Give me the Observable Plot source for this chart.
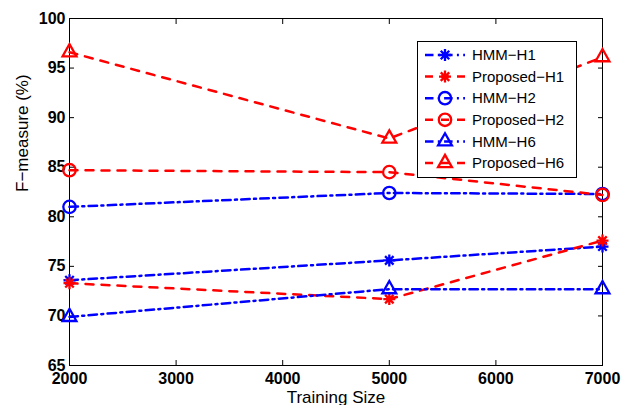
<!DOCTYPE html>
<html><head><meta charset="utf-8">
<script src="https://cdn.jsdelivr.net/npm/d3@7"></script>
<script src="https://cdn.jsdelivr.net/npm/@observablehq/plot@0.6"></script>
<style>
body{margin:0;background:#fff;}
#chart{position:relative;width:638px;height:405px;overflow:hidden;font-family:"Liberation Sans",Arial,sans-serif;}
</style>
</head><body><div id="chart"></div>
<script>
const trainingSize = [2000, 5000, 7000];
const seriesNames = ["HMM−H1", "Proposed−H1", "HMM−H2", "Proposed−H2", "HMM−H6", "Proposed−H6"];
const hmmH1 = [73.6, 75.6, 77.0];
const proposedH1 = [73.3, 71.7, 77.6];
const hmmH2 = [81.0, 82.4, 82.3];
const proposedH2 = [84.7, 84.5, 82.2];
const hmmH6 = [69.9, 72.7, 72.7];
const proposedH6 = [96.6, 87.9, 96.1];
const xTicks = [2000, 3000, 4000, 5000, 6000, 7000];
const yTicks = [65, 70, 75, 80, 85, 90, 95, 100];
const xLabel = "Training Size";
const yLabel = "F−measure (%)";

const seriesValues = [hmmH1, proposedH1, hmmH2, proposedH2, hmmH6, proposedH6];

// custom MATLAB-like symbols
const asterisk = {draw(ctx, size) {
  const r = Math.sqrt(size / Math.PI), d = r * Math.SQRT1_2;
  ctx.moveTo(-r, 0); ctx.lineTo(r, 0);
  ctx.moveTo(0, -r); ctx.lineTo(0, r);
  ctx.moveTo(-d, -d); ctx.lineTo(d, d);
  ctx.moveTo(-d, d); ctx.lineTo(d, -d);
}};
const circle = {draw(ctx, size) {
  const r = Math.sqrt(size / Math.PI);
  ctx.moveTo(r, 0); ctx.arc(0, 0, r, 0, 2 * Math.PI);
}};
const triangle = {draw(ctx, size) {
  const r = Math.sqrt(size / Math.PI), w = r * 1.05, h = r * 1.85;
  ctx.moveTo(0, -2 * h / 3); ctx.lineTo(w, h / 3); ctx.lineTo(-w, h / 3); ctx.closePath();
}};

const blue = "#0000ff", red = "#ff0000";
const dashDot = "8.5,4.3,2,4.3", dashed = "8,8";
const styles = [
  {color: blue, dash: dashDot, symbol: asterisk, r: 6},
  {color: red, dash: dashed, symbol: asterisk, r: 6},
  {color: blue, dash: dashDot, symbol: circle, r: 6.2},
  {color: red, dash: dashed, symbol: circle, r: 6.2},
  {color: blue, dash: dashDot, symbol: triangle, r: 6.6},
  {color: red, dash: dashed, symbol: triangle, r: 6.6}
];

const rows = seriesNames.map((name, i) => trainingSize.map((x, j) => ({series: name, x, y: seriesValues[i][j]})));

const marks = [];
rows.forEach((data, i) => {
  const s = styles[i];
  marks.push(Plot.line(data, {x: "x", y: "y", stroke: s.color, strokeWidth: 2.5, strokeDasharray: s.dash}));
  marks.push(Plot.dot(data, {x: "x", y: "y", r: s.r, symbol: s.symbol, stroke: s.color, strokeWidth: 2.3, fill: "none"}));
});

const tickFmt = d => String(d);
const plot = Plot.plot({
  width: 638, height: 405,
  marginLeft: 69, marginRight: 36, marginTop: 18, marginBottom: 40,
  style: {fontFamily: "'Liberation Sans', Arial, sans-serif", background: "white", color: "black"},
  x: {domain: [2000, 7000]},
  y: {domain: [65, 100]},
  marks: [
    Plot.frame({stroke: "black", strokeWidth: 1}),
    Plot.axisX(xTicks, {anchor: "bottom", tickSize: -5, tickFormat: () => "", label: null}),
    Plot.axisX(xTicks, {anchor: "top", tickSize: -5, tickFormat: () => "", label: null}),
    Plot.axisY(yTicks, {anchor: "left", tickSize: -5, tickFormat: () => "", label: null}),
    Plot.axisY(yTicks, {anchor: "right", tickSize: -5, tickFormat: () => "", label: null}),
    Plot.axisX(xTicks, {anchor: "bottom", tickSize: 0, tickPadding: 7, tickFormat: tickFmt, fontSize: 16, fontWeight: "bold", label: null}),
    Plot.axisY(yTicks, {anchor: "left", tickSize: 0, tickPadding: 4, tickFormat: tickFmt, fontSize: 16, fontWeight: "bold", label: null}),
    ...marks,
    Plot.text([xLabel], {frameAnchor: "bottom", dy: 32, fontSize: 17, lineAnchor: "middle"}),
    Plot.text([yLabel], {frameAnchor: "left", dx: -46.5, rotate: -90, fontSize: 17, lineAnchor: "middle"})
  ]
});
document.getElementById("chart").appendChild(plot);

// legend overlay
const leg = d3.select("#chart").append("svg")
  .attr("width", 638).attr("height", 405)
  .style("position", "absolute").style("left", "0").style("top", "0");
leg.append("rect").attr("x", 417.5).attr("y", 41.5).attr("width", 159).attr("height", 136)
  .attr("fill", "white").attr("stroke", "black").attr("stroke-width", 1);
seriesNames.forEach((name, i) => {
  const s = styles[i], cy = 55 + i * 21.6;
  const g = leg.append("g");
  g.append("line").attr("x1", 425).attr("x2", 465).attr("y1", cy).attr("y2", cy)
    .attr("stroke", s.color).attr("stroke-width", 2.5).attr("stroke-dasharray", s.dash);
  g.append("path").attr("transform", `translate(445,${cy})`)
    .attr("d", d3.symbol(s.symbol, s.r * s.r * Math.PI)())
    .attr("fill", "none").attr("stroke", s.color).attr("stroke-width", 2.3);
  g.append("text").attr("x", 472).attr("y", cy).attr("dy", "0.35em")
    .attr("font-size", 15).attr("font-family", "'Liberation Sans', Arial, sans-serif").text(name);
});
</script>
</body></html>
